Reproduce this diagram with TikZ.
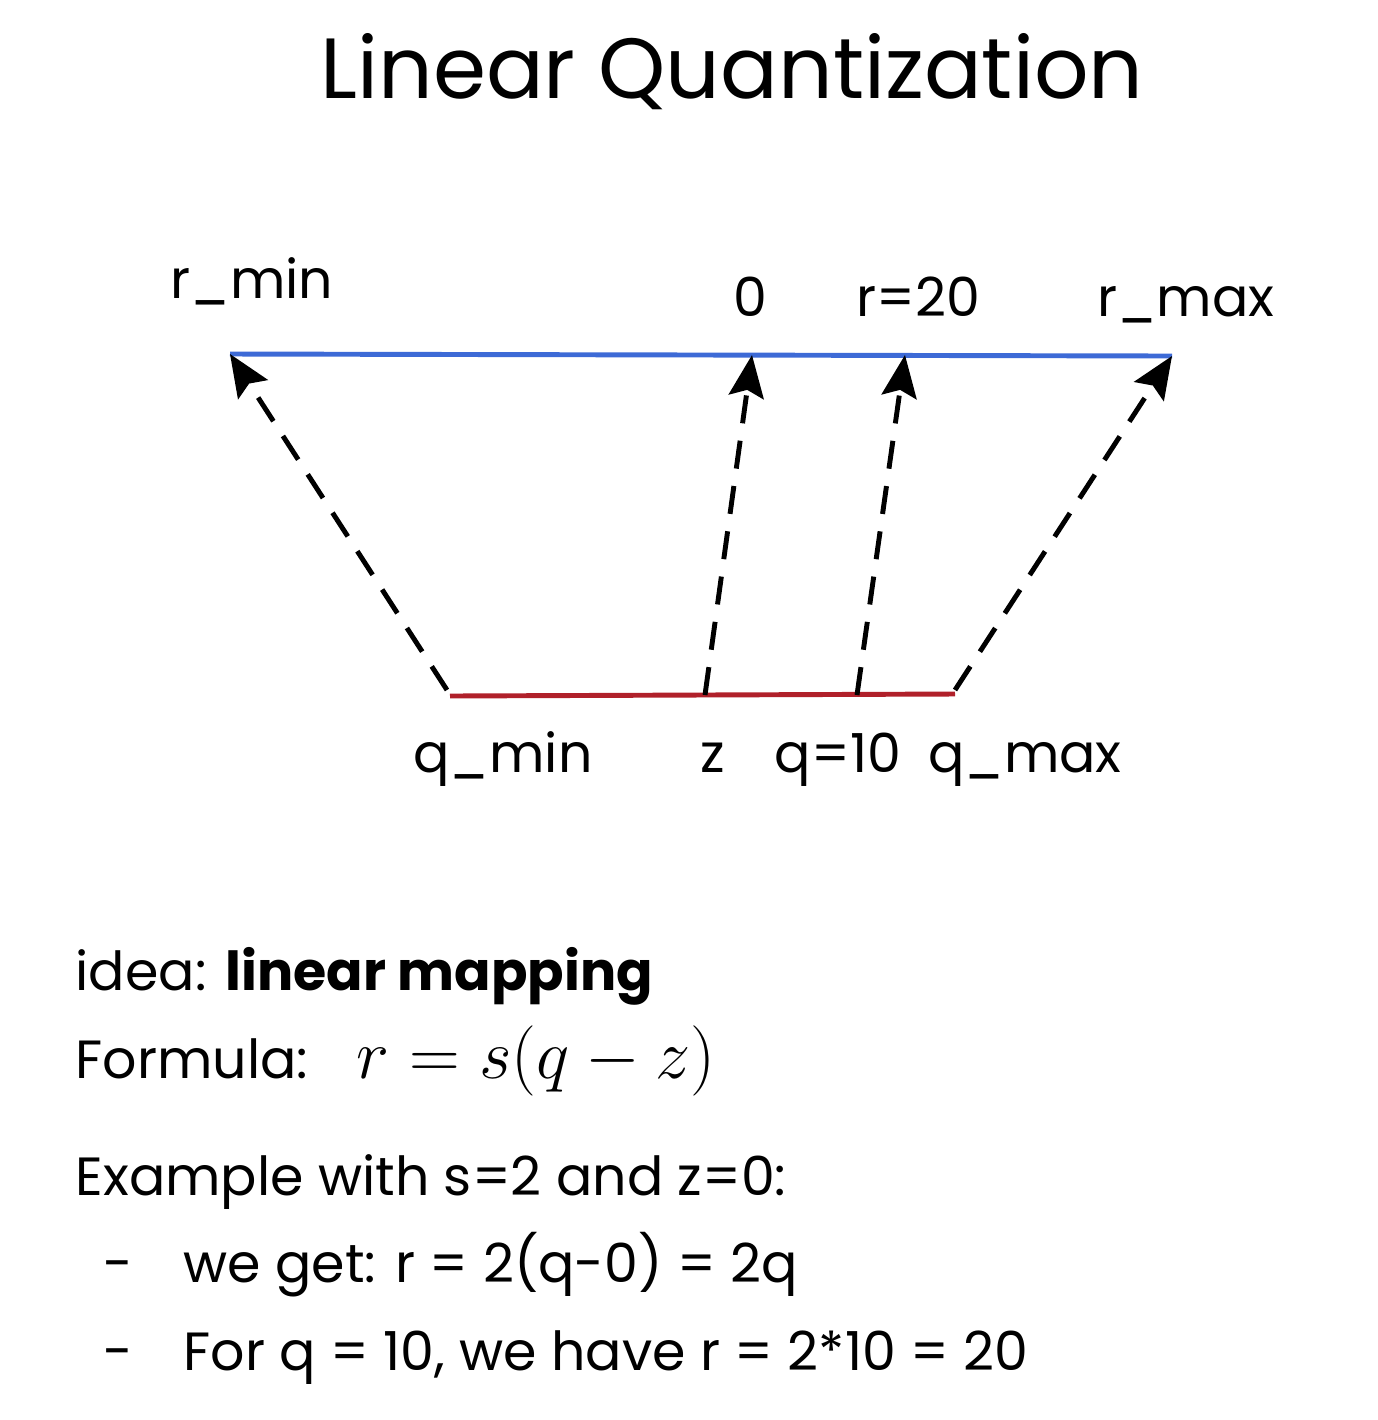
\RequirePackage{fix-cm}
\documentclass[tikz,border=0pt]{standalone}
\usepackage{fontspec}
\setmainfont{Poppins}
\usepackage{amsmath}
\definecolor{realblue}{HTML}{3D6AD6}
\definecolor{quantred}{HTML}{B0202A}
\usetikzlibrary{arrows.meta, positioning}

\begin{document}
\begin{tikzpicture}[x=0.01cm, y=-0.01cm,
    axis/.style={line width=1.4pt},
    mapping/.style={-{Stealth[length=12pt, width=10pt, inset=2pt]}, line width=1.4pt,
      dash pattern=on 8pt off 5pt},
    lbl/.style={font=\fontsize{15.3}{18}\selectfont, anchor=base},
    body/.style={font=\fontsize{15.3}{18}\selectfont, anchor=base west, inner sep=0pt}]
        \useasboundingbox (0,0) rectangle (1378,1420);
        % Title
        \node[font=\fontsize{24.3}{29}\selectfont, anchor=base] (title) at (732, 98)
          {Linear Quantization};
        % Real range
        \coordinate (rmin) at (230, 354);
        \coordinate (rzero) at (752, 355);
        \coordinate (rval) at (905, 355);
        \coordinate (rmax) at (1172, 356);
        \draw[axis, realblue] (rmin) -- (rmax);
        \node[lbl] (rminlbl) at (252, 298) {r\_min};
        \node[lbl] (rzerolbl) at (750, 316) {0};
        \node[lbl] (rvallbl) at (918, 316) {r=20};
        \node[lbl] (rmaxlbl) at (1186, 316) {r\_max};
        % Quantized range
        \coordinate (qmin) at (450, 696);
        \coordinate (qzero) at (705, 695);
        \coordinate (qval) at (857, 695);
        \coordinate (qmax) at (955, 694);
        \draw[axis, quantred] (qmin) -- (qmax);
        \node[lbl] (qminlbl) at (503, 772) {q\_min};
        \node[lbl] (qzerolbl) at (713, 772) {z};
        \node[lbl] (qvallbl) at (838, 772) {q=10};
        \node[lbl] (qmaxlbl) at (1025, 772) {q\_max};
        % Mapping arrows
        \draw[mapping] ([shift={(-3,-6)}]qmin) -- (rmin);
        \draw[mapping] (qzero) -- (rzero);
        \draw[mapping] (qval) -- (rval);
        \draw[mapping] ([shift={(0,-4)}]qmax) -- (rmax);
        % Explanation
        \node[body] (idea) at (75, 990) {idea: \textbf{linear mapping}};
        \node[body] (formula) at (75, 1078)
          {Formula:\hspace{0.9em}\fontsize{20}{23}\selectfont$r = s(q - z)$};
        \node[body] (example) at (75, 1195) {Example with s=2 and z=0:};
        \node[body] (dashone) at (103, 1282) {-};
        \node[body] (stepone) at (183, 1282) {we get: r = 2(q-0) = 2q};
        \node[body] (dashtwo) at (103, 1370) {-};
        \node[body] (steptwo) at (183, 1370) {For q = 10, we have r = 2*10 = 20};
      \end{tikzpicture}
\end{document}
